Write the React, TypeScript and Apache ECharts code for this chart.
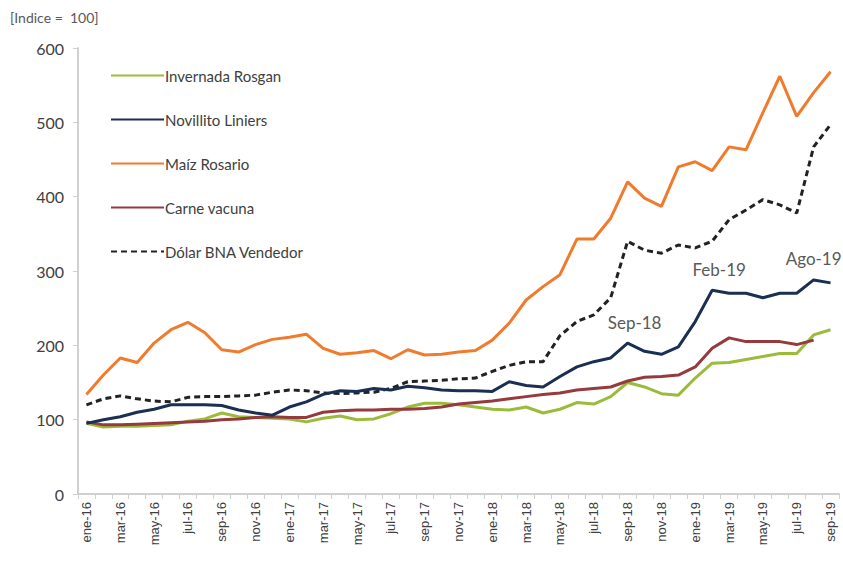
import React, { useEffect, useRef } from "react";
import * as echarts from "echarts";

const months = [
  "ene-16","feb-16","mar-16","abr-16","may-16","jun-16","jul-16","ago-16","sep-16","oct-16","nov-16","dic-16",
  "ene-17","feb-17","mar-17","abr-17","may-17","jun-17","jul-17","ago-17","sep-17","oct-17","nov-17","dic-17",
  "ene-18","feb-18","mar-18","abr-18","may-18","jun-18","jul-18","ago-18","sep-18","oct-18","nov-18","dic-18",
  "ene-19","feb-19","mar-19","abr-19","may-19","jun-19","jul-19","ago-19","sep-19",
];

const invernadaRosgan = [
  95, 90, 91, 91, 92, 93, 98, 101, 109, 104, 103, 102,
  101, 97, 102, 105, 100, 101, 108, 117, 122, 122, 120, 117,
  114, 113, 117, 109, 114, 123, 121, 131, 150, 144, 135, 133,
  156, 176, 177, 181, 185, 189, 189, 214, 221,
];

const novilloLiniers = [
  95, 100, 104, 110, 114, 120, 120, 120, 119, 113, 109, 106,
  117, 124, 134, 139, 138, 142, 140, 145, 143, 140, 139, 139,
  138, 151, 146, 144, 158, 171, 178, 183, 203, 192, 188, 198,
  232, 274, 270, 270, 264, 270, 270, 288, 284,
];

const maizRosario = [
  134, 160, 183, 177, 203, 221, 231, 217, 194, 191, 201, 208,
  211, 215, 196, 188, 190, 193, 182, 194, 187, 188, 191, 193,
  207, 230, 261, 279, 295, 343, 343, 371, 420, 398, 387, 440,
  447, 435, 467, 463, 513, 562, 508, 540, 568,
];

const carneVacuna: (number | null)[] = [
  97, 93, 93, 94, 95, 96, 97, 98, 100, 101, 103, 104,
  103, 103, 110, 112, 113, 113, 114, 114, 115, 117, 121, 123,
  125, 128, 131, 134, 136, 140, 142, 144, 152, 157, 158, 160,
  171, 196, 210, 205, 205, 205, 201, 207, null,
];

const dolarBNA = [
  120, 128, 132, 128, 125, 124, 130, 131, 131, 132, 133, 137,
  140, 139, 136, 135, 136, 137, 142, 151, 152, 153, 155, 156,
  165, 173, 178, 178, 213, 232, 241, 264, 340, 328, 324, 335,
  331, 340, 369, 382, 396, 389, 378, 467, 497,
];

const annotationMonths = ["sep-18", "feb-19", "ago-19"];
const annotationTexts = ["Sep-18", "Feb-19", "Ago-19"];

const yTicks = [0, 100, 200, 300, 400, 500, 600];

const FONT = "Lato, 'Open Sans', sans-serif";

export default function App() {
  const ref = useRef<HTMLDivElement>(null);

  useEffect(() => {
    document.body.style.margin = "0";
    if (!ref.current) return;
    const chart = echarts.init(ref.current, undefined, { renderer: "svg" });

    const markData = annotationMonths.map((m, k) => {
      const idx = months.indexOf(m);
      const last = k === annotationMonths.length - 1;
      return {
        coord: [m, novilloLiniers[idx]],
        value: annotationTexts[k],
        label: { offset: last ? [0, 0] : [7, 0] },
      };
    });

    chart.setOption({
      animation: false,
      backgroundColor: "#ffffff",
      textStyle: { fontFamily: FONT },
      grid: { left: 78, right: 4, top: 48, bottom: 70, containLabel: false },
      graphic: [
        {
          type: "text",
          left: 10,
          top: 10,
          style: {
            text: "[Indice =  100]",
            fontSize: 14,
            fill: "#595959",
            fontFamily: FONT,
          },
        },
      ],
      legend: {
        orient: "vertical",
        left: 105,
        top: 63,
        itemWidth: 53,
        itemHeight: 3,
        itemGap: 29,
        itemStyle: { opacity: 0 },
        textStyle: {
          fontSize: 15,
          color: "#404040",
          fontFamily: FONT,
          padding: [0, 0, 0, -4],
        },
        data: [
          "Invernada Rosgan",
          "Novillito Liniers",
          "Maíz Rosario",
          "Carne vacuna",
          "Dólar BNA Vendedor",
        ],
      },
      xAxis: {
        type: "category",
        data: months,
        boundaryGap: true,
        axisLine: { lineStyle: { color: "#d0d0d0", width: 2 } },
        axisTick: { show: true, interval: 0, length: 5, lineStyle: { color: "#d0d0d0" } },
        axisLabel: {
          interval: 1,
          rotate: 90,
          fontSize: 13,
          color: "#404040",
          fontFamily: "'Liberation Sans', Arial, sans-serif",
          margin: 8,
        },
        splitLine: { show: false },
      },
      yAxis: {
        type: "value",
        min: yTicks[0],
        max: yTicks[yTicks.length - 1],
        interval: 100,
        axisLine: { show: true, lineStyle: { color: "#d0d0d0", width: 2 } },
        axisTick: { show: true, length: 5, lineStyle: { color: "#d0d0d0" } },
        axisLabel: { fontSize: 16, color: "#404040", margin: 14, fontFamily: FONT },
        splitLine: { show: false },
      },
      series: [
        {
          name: "Invernada Rosgan",
          type: "line",
          data: invernadaRosgan,
          symbol: "none",
          color: "#9bbb3b",
          lineStyle: { width: 3, color: "#9bbb3b" },
          z: 2,
        },
        {
          name: "Novillito Liniers",
          type: "line",
          data: novilloLiniers,
          symbol: "none",
          color: "#1a2f52",
          lineStyle: { width: 3, color: "#1a2f52" },
          z: 4,
          markPoint: {
            symbol: "circle",
            symbolSize: 1,
            itemStyle: { color: "rgba(0,0,0,0)" },
            label: {
              show: true,
              position: "top",
              distance: 12,
              formatter: (p: any) => p.value,
              color: "#595959",
              fontSize: 17,
              fontFamily: FONT,
            },
            data: markData,
          },
        },
        {
          name: "Maíz Rosario",
          type: "line",
          data: maizRosario,
          symbol: "none",
          color: "#f07b2c",
          lineStyle: { width: 3, color: "#f07b2c" },
          z: 3,
        },
        {
          name: "Carne vacuna",
          type: "line",
          data: carneVacuna,
          symbol: "none",
          color: "#953a3d",
          lineStyle: { width: 3, color: "#953a3d" },
          z: 3,
        },
        {
          name: "Dólar BNA Vendedor",
          type: "line",
          data: dolarBNA,
          symbol: "none",
          color: "#222222",
          lineStyle: { width: 3, color: "#222222", type: [6, 4] },
          z: 3,
        },
      ],
    });

    return () => chart.dispose();
  }, []);

  return <div ref={ref} style={{ width: 843, height: 564 }} />;
}
